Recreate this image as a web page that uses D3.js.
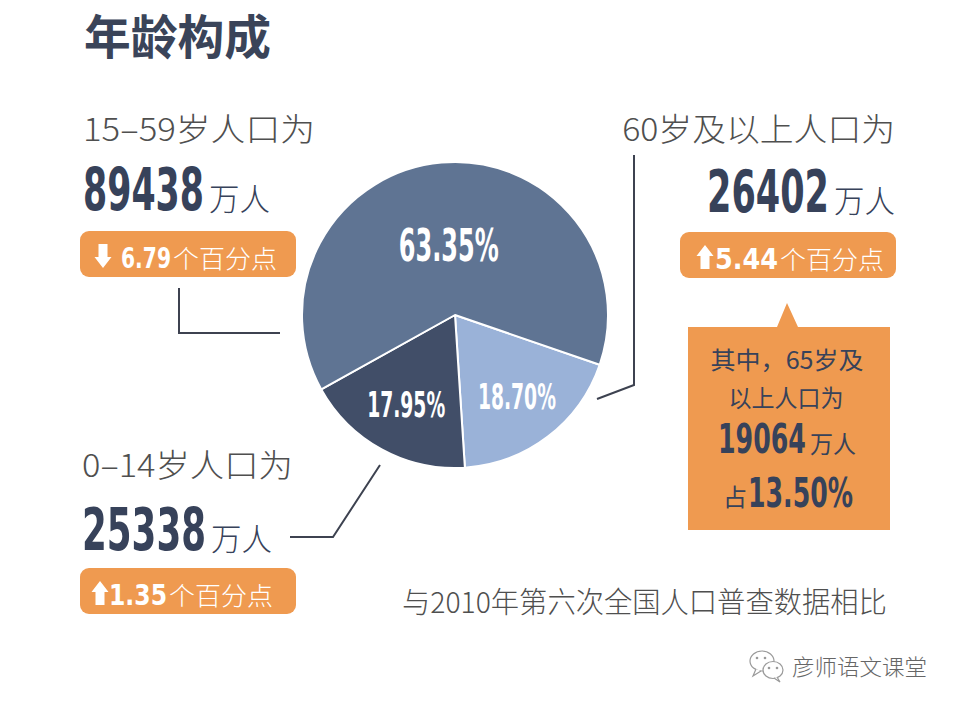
<!DOCTYPE html>
<html><head><meta charset="utf-8">
<script src="https://cdn.jsdelivr.net/npm/d3@7"></script>
<style>html,body{margin:0;padding:0;background:#fff;}svg{display:block;}</style>
</head><body>
<script>
// ---- data ----
const categories = ["60岁及以上人口为", "0–14岁人口为", "15–59岁人口为"];
const shares = [18.70, 17.95, 63.35];
const populations = [26402, 25338, 89438];
const changes = [5.44, 1.35, -6.79];
const subLabel = ["其中，65岁及", "以上人口为"];
const subPopulation = 19064;
const subShare = 13.50;
const title = "年龄构成";
const footnote = "与2010年第六次全国人口普查数据相比";
const watermark = "彦师语文课堂";

const W = 959, H = 706;
const svg = d3.select("body").append("svg").attr("width", W).attr("height", H);
const CJK = "'Noto Sans CJK SC', 'Noto Sans', sans-serif";
const NUM = "'Liberation Sans Narrow', 'DejaVu Sans Condensed', Roboto, sans-serif";
const navy = "#37425a", gray = "#4f4f4f", orange = "#ef9a50", lineC = "#3d4250";
const sliceColors = ["#9ab2d8", "#414e68", "#5f7493"];

// text fitted to a width by horizontal scaling (keeps real bounding box)
function txt(g, s, x, y, o) {
  const grp = g.append("g");
  const t = grp.append("text").attr("x", 0).attr("y", 0).text(s)
    .attr("font-family", o.font || CJK).attr("font-size", o.size)
    .attr("font-weight", o.weight || 400).attr("fill", o.fill || gray)
    .attr("text-anchor", o.anchor || "start");
  let sx = 1;
  if (o.len) {
    const nat = t.node().getComputedTextLength();
    if (nat > 0) sx = o.len / nat;
  }
  grp.attr("transform", `translate(${x},${y}) scale(${sx},1)`);
  return t;
}

// title
txt(svg, title, 84, 54, {size: 47, weight: 700, fill: "#3a4459", len: 187});

// ---- pie ----
const cx = 455, cy = 315, R = 153;
const pie = d3.pie().sort(null).value(d => d).startAngle(1.902).endAngle(1.902 + 2 * Math.PI);
const arc = d3.arc().innerRadius(0).outerRadius(R);
const arcs = pie(shares);
const gp = svg.append("g").attr("transform", `translate(${cx},${cy})`);
gp.selectAll("path").data(arcs).join("path")
  .attr("d", arc).attr("fill", (d, i) => sliceColors[i])
  .attr("stroke", "#fff").attr("stroke-width", 2).attr("stroke-linejoin", "round");
const labelSizes = [36, 35, 44], labelLens = [78, 78, 100];
arcs.forEach((d, i) => {
  const rr = d.value > 50 ? 70 : 102;
  const c = d3.arc().innerRadius(rr).outerRadius(rr).centroid(d);
  txt(gp, shares[i].toFixed(2) + "%", c[0], c[1] + labelSizes[i] * 0.36,
      {font: NUM, size: labelSizes[i], weight: 700, fill: "#fff", anchor: "middle", len: labelLens[i]});
});

// ---- connector lines ----
const lines = [
  [[179, 288], [179, 333], [280, 333]],
  [[634, 155], [634, 385], [597, 399]],
  [[290, 537], [333, 537], [380, 465]]
];
svg.selectAll("path.conn").data(lines).join("path").attr("class", "conn")
  .attr("d", d3.line()).attr("fill", "none").attr("stroke", lineC).attr("stroke-width", 2);

// ---- arrows ----
function arrow(x, y, up) {
  const p = up
    ? `M${x},${y} L${x+8.5},${y+11} L${x+4.5},${y+11} L${x+4.5},${y+24} L${x-4.5},${y+24} L${x-4.5},${y+11} L${x-8.5},${y+11} Z`
    : `M${x},${y+24} L${x+8.5},${y+13} L${x+4.5},${y+13} L${x+4.5},${y} L${x-4.5},${y} L${x-4.5},${y+13} L${x-8.5},${y+13} Z`;
  svg.append("path").attr("d", p).attr("fill", "#fff");
}

// ---- category blocks ----
const blocks = [
  {lx: 895, ly: 141, anchor: "end", llen: 273, nx: 707, ny: 212, nlen: 122, bx: 680, by: 232, ax: 705, chx: 715, chlen: 63, ux: 780},
  {lx: 82, ly: 477, anchor: "start", llen: 211, nx: 82, ny: 550, nlen: 124, bx: 80, by: 568, ax: 100, chx: 109, chlen: 58, ux: 169},
  {lx: 83, ly: 141, anchor: "start", llen: 232, nx: 83, ny: 210, nlen: 121, bx: 80, by: 231, ax: 103, chx: 121, chlen: 50, ux: 173}
];
blocks.forEach((b, i) => {
  txt(svg, categories[i], b.lx, b.ly, {size: 32, weight: 300, anchor: b.anchor, len: b.llen});
  txt(svg, String(populations[i]), b.nx, b.ny, {font: NUM, size: 59, weight: 700, fill: navy, len: b.nlen});
  txt(svg, "万人", b.nx + b.nlen + 5, b.ny, {size: 31, weight: 300, fill: navy, len: 61});
  svg.append("rect").attr("x", b.bx).attr("y", b.by).attr("width", 216).attr("height", 46)
    .attr("rx", 9).attr("fill", orange);
  arrow(b.ax, b.by + 13, changes[i] > 0);
  txt(svg, Math.abs(changes[i]).toFixed(2), b.chx, b.by + 37, {font: NUM, size: 29, weight: 700, fill: "#fff", len: b.chlen});
  txt(svg, "个百分点", b.ux, b.by + 37, {size: 25, weight: 300, fill: "#fff", len: 104});
});

// ---- callout box ----
svg.append("path").attr("d", "M688,327 L777,327 L787,303 L798,327 L890,327 L890,530 L688,530 Z").attr("fill", orange);
txt(svg, subLabel[0], 787, 369, {size: 24, fill: navy, anchor: "middle", len: 153});
txt(svg, subLabel[1], 786, 407, {size: 24, fill: navy, anchor: "middle", len: 115});
txt(svg, String(subPopulation), 718, 453, {font: NUM, size: 41, weight: 700, fill: navy, len: 88});
txt(svg, "万人", 810, 453, {size: 24, fill: navy, len: 46});
txt(svg, "占", 723, 506, {size: 24, fill: navy});
txt(svg, subShare.toFixed(2) + "%", 748, 507, {font: NUM, size: 41, weight: 700, fill: navy, len: 105});

// ---- footnote ----
txt(svg, footnote, 402, 613, {size: 29, weight: 300, fill: gray, len: 485});

// ---- watermark ----
const wm = svg.append("g").attr("fill", "#fff").attr("stroke", "#9a9a9a").attr("stroke-width", 1.2);
wm.append("ellipse").attr("cx", 762).attr("cy", 661).attr("rx", 12).attr("ry", 10);
wm.append("path").attr("d", "M756,669 L753,676 L761,671");
wm.append("ellipse").attr("cx", 773).attr("cy", 670).attr("rx", 10).attr("ry", 8.5);
wm.append("path").attr("d", "M777,677 L780,682 L774,678");
[[757,658],[765,658],[769,668],[777,668]].forEach(p =>
  svg.append("circle").attr("cx", p[0]).attr("cy", p[1]).attr("r", 1.3).attr("fill", "#9a9a9a"));
txt(svg, watermark, 792, 675, {size: 22, weight: 300, fill: "#666", len: 135});
</script>
</body></html>
